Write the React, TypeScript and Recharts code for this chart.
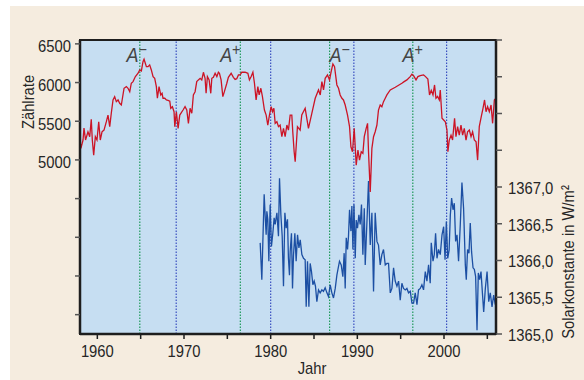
import React from "react";
import {
    LineChart, Line, XAxis, YAxis, ReferenceLine, ReferenceArea
} from "recharts";

// Neutron monitor count rate (left axis)
const countYears = [
    1958.0, 1958.15, 1958.35, 1958.46, 1958.64, 1958.92, 1959.12, 1959.3, 1959.42, 1959.58,
    1959.77, 1959.96, 1960.16, 1960.34, 1960.54, 1960.77, 1961.04, 1961.23, 1961.43, 1961.61,
    1961.81, 1962.0, 1962.19, 1962.39, 1962.58, 1962.77, 1963.08, 1963.35, 1963.54, 1963.74,
    1963.92, 1964.12, 1964.39, 1964.7, 1964.89, 1965.08, 1965.27, 1965.39, 1965.66, 1965.85,
    1966.04, 1966.23, 1966.43, 1966.62, 1966.81, 1966.93, 1967.12, 1967.32, 1967.47, 1967.58,
    1967.78, 1967.97, 1968.16, 1968.36, 1968.47, 1968.66, 1968.85, 1968.94, 1969.12, 1969.32,
    1969.51, 1969.89, 1970.12, 1970.32, 1970.51, 1970.7, 1970.9, 1971.08, 1971.28, 1971.47,
    1971.66, 1971.86, 1972.05, 1972.24, 1972.43, 1972.55, 1972.7, 1972.9, 1973.09, 1973.21,
    1973.39, 1973.59, 1973.79, 1973.97, 1974.09, 1974.28, 1974.48, 1974.66, 1974.94, 1975.12,
    1975.44, 1975.7, 1975.9, 1976.09, 1976.28, 1976.48, 1976.67, 1977.05, 1977.37, 1977.55,
    1977.75, 1977.95, 1978.13, 1978.32, 1978.52, 1978.67, 1978.87, 1979.05, 1979.28, 1979.48,
    1979.67, 1979.86, 1980.06, 1980.21, 1980.37, 1980.52, 1980.72, 1980.9, 1981.09, 1981.29,
    1981.48, 1981.67, 1981.87, 1982.05, 1982.25, 1982.44, 1982.55, 1982.71, 1982.83, 1983.09,
    1983.4, 1983.59, 1983.98, 1984.36, 1984.75, 1985.14, 1985.52, 1985.72, 1985.91, 1986.1,
    1986.29, 1986.56, 1986.79, 1986.98, 1987.18, 1987.37, 1987.64, 1987.83, 1988.02, 1988.22,
    1988.4, 1988.6, 1988.87, 1989.1, 1989.26, 1989.44, 1989.64, 1989.87, 1990.07, 1990.25,
    1990.45, 1990.64, 1990.8, 1991.02, 1991.18, 1991.29, 1991.49, 1991.68, 1991.87, 1992.06,
    1992.26, 1992.44, 1992.64, 1992.83, 1993.02, 1993.22, 1993.41, 1993.8, 1994.38, 1995.14,
    1995.4, 1995.72, 1996.1, 1996.3, 1996.49, 1996.77, 1996.99, 1997.26, 1997.64, 1997.84,
    1998.14, 1998.33, 1998.53, 1998.73, 1998.91, 1999.07, 1999.26, 1999.46, 1999.57, 1999.77,
    1999.96, 2000.15, 2000.34, 2000.45, 2000.61, 2000.81, 2000.99, 2001.22, 2001.38, 2001.57,
    2001.76, 2001.96, 2002.15, 2002.34, 2002.54, 2002.72, 2002.92, 2003.12, 2003.3, 2003.5,
    2003.7, 2003.88, 2004.07, 2004.3, 2004.5, 2004.68, 2004.85, 2005.03, 2005.23, 2005.43,
    2005.61, 2005.81, 2006.0,
];
const countValues = [
    5218, 5170, 5257, 5412, 5257, 5364, 5300, 5525, 5257, 5062,
    5300, 5257, 5494, 5257, 5364, 5386, 5494, 5580, 5430, 5603,
    5775, 5818, 5753, 5775, 5732, 5710, 5926, 5947, 5926, 5882,
    5991, 6012, 6077, 6120, 6163, 6150, 6271, 6302, 6206, 6206,
    6228, 6163, 6077, 6055, 5947, 5797, 5947, 5840, 5861, 5797,
    5797, 5775, 5770, 5760, 5667, 5688, 5623, 5430, 5623, 5408,
    5580, 5645, 5688, 5645, 5473, 5667, 5603, 5840, 5882, 6012,
    6034, 6055, 6034, 6133, 6055, 5861, 6077, 6034, 5861, 6055,
    6068, 6120, 6077, 6133, 6120, 6034, 5818, 5882, 5991, 6068,
    6120, 6068, 6040, 6050, 6099, 6099, 6133, 6133, 6120, 6034,
    6077, 6133, 5991, 5775, 5947, 5840, 5926, 5818, 5645, 5580,
    5451, 5580, 5688, 5623, 5667, 5473, 5494, 5430, 5451, 5300,
    5408, 5300, 5451, 5386, 5580, 5580, 5364, 5105, 4976, 5430,
    5386, 5580, 5667, 5408, 5603, 5797, 5904, 5840, 6012, 5904,
    6055, 6099, 6034, 6142, 6241, 6206, 5969, 5926, 5840, 5797,
    5775, 5710, 5580, 5430, 5170, 5105, 5408, 4933, 5128, 4998,
    5105, 5085, 5300, 5408, 5473, 5105, 4587, 5150, 5300, 5364,
    5451, 5645, 5710, 5688, 5753, 5797, 5840, 5904, 5940, 5991,
    6012, 6034, 6077, 6108, 6090, 6034, 6077, 6090, 6099, 6080,
    6045, 5840, 5900, 5840, 5969, 5797, 5820, 5775, 5904, 5538,
    5516, 5494, 5386, 5105, 5257, 5320, 5257, 5538, 5300, 5430,
    5320, 5451, 5320, 5408, 5257, 5364, 5386, 5300, 5364, 5257,
    5235, 4998, 5430, 5559, 5667, 5775, 5623, 5688, 5623, 5710,
    5473, 5775, 5797,
];

// Solar constant in W/m² (right axis)
const solarYears = [
    1978.79, 1978.98, 1979.1, 1979.25, 1979.36, 1979.48, 1979.56, 1979.67, 1979.79, 1979.94,
    1980.09, 1980.25, 1980.4, 1980.52, 1980.72, 1980.9, 1981.02, 1981.18, 1981.33, 1981.48,
    1981.64, 1981.79, 1981.94, 1982.05, 1982.17, 1982.25, 1982.4, 1982.52, 1982.63, 1982.79,
    1982.94, 1983.1, 1983.26, 1983.41, 1983.6, 1983.79, 1983.98, 1984.1, 1984.25, 1984.41,
    1984.56, 1984.71, 1984.87, 1985.02, 1985.17, 1985.33, 1985.52, 1985.71, 1985.91, 1986.09,
    1986.29, 1986.49, 1986.67, 1986.87, 1987.06, 1987.25, 1987.45, 1987.64, 1987.94, 1988.14,
    1988.33, 1988.48, 1988.6, 1988.72, 1988.87, 1988.98, 1989.1, 1989.26, 1989.37, 1989.49,
    1989.61, 1989.76, 1989.87, 1990.02, 1990.18, 1990.33, 1990.48, 1990.64, 1990.8, 1990.91,
    1991.11, 1991.29, 1991.49, 1991.68, 1991.87, 1992.06, 1992.26, 1992.44, 1992.64, 1992.83,
    1993.02, 1993.22, 1993.41, 1993.6, 1993.8, 1993.99, 1994.18, 1994.37, 1994.57, 1994.76,
    1994.95, 1995.14, 1995.33, 1995.53, 1995.72, 1995.91, 1996.11, 1996.3, 1996.49, 1996.68,
    1996.88, 1997.06, 1997.26, 1997.45, 1997.64, 1997.84, 1998.03, 1998.22, 1998.41, 1998.53,
    1998.73, 1998.88, 1999.03, 1999.19, 1999.37, 1999.57, 1999.77, 1999.96, 2000.12, 2000.27,
    2000.43, 2000.59, 2000.73, 2000.88, 2001.04, 2001.19, 2001.34, 2001.5, 2001.68, 2001.88,
    2002.07, 2002.26, 2002.46, 2002.57, 2002.72, 2002.88, 2003.03, 2003.18, 2003.35, 2003.5,
    2003.65, 2003.81, 2003.96, 2004.11, 2004.27, 2004.42, 2004.58, 2004.77, 2004.97, 2005.16,
    2005.34, 2005.54, 2005.73, 2005.92,
];
const solarValues = [
    1366.24, 1365.74, 1366.26, 1366.9, 1366.62, 1366.35, 1366.67, 1366.56, 1365.99, 1366.76,
    1366.19, 1366.37, 1366.58, 1366.49, 1366.65, 1366.33, 1367.12, 1366.62, 1366.33, 1365.65,
    1366.65, 1366.44, 1366.56, 1366.03, 1365.8, 1366.12, 1366.37, 1365.62, 1366.06, 1366.37,
    1365.99, 1366.35, 1366.17, 1366.28, 1366.08, 1366.03, 1366.01, 1365.37, 1365.99, 1365.37,
    1365.96, 1365.85, 1365.67, 1365.72, 1365.65, 1365.44, 1365.6, 1365.56, 1365.6, 1365.58,
    1365.63, 1365.56, 1365.51, 1365.67, 1365.56, 1365.49, 1365.62, 1365.8, 1365.99, 1365.94,
    1365.78, 1366.1, 1365.62, 1366.31, 1366.15, 1366.33, 1366.69, 1366.4, 1366.74, 1366.15,
    1366.76, 1366.03, 1366.55, 1366.44, 1366.62, 1366.49, 1366.76, 1366.08, 1366.71, 1365.94,
    1366.53, 1367.08, 1366.21, 1366.65, 1365.58, 1366.65, 1366.26, 1366.21, 1365.94, 1366.08,
    1366.15, 1365.94, 1365.96, 1365.96, 1365.56, 1365.62, 1365.9, 1365.72, 1365.65, 1365.72,
    1365.46, 1365.69, 1365.62, 1365.6, 1365.62, 1365.56, 1365.58, 1365.42, 1365.42, 1365.56,
    1365.4, 1365.6, 1365.62, 1365.67, 1365.6, 1365.85, 1365.72, 1365.94, 1365.69, 1366.24,
    1365.99, 1366.08, 1366.37, 1366.03, 1366.15, 1366.08, 1366.35, 1366.46, 1366.01, 1366.53,
    1366.03, 1366.14, 1366.62, 1366.85, 1366.69, 1366.78, 1366.26, 1366.35, 1365.99, 1366.49,
    1367.06, 1366.71, 1365.94, 1365.74, 1366.15, 1366.1, 1366.51, 1366.12, 1365.9, 1365.88,
    1365.78, 1365.05, 1365.83, 1365.74, 1365.85, 1365.58, 1365.3, 1365.62, 1365.85, 1365.44,
    1365.56, 1365.37, 1365.53, 1365.4,
];

// Solar magnetic polarity reversals (green) and solar maxima (blue)
const polarityYears = [1964.9, 1976.5, 1986.8, 1996.4];
const polarityLabels = ["−", "+", "−", "+"];
const maximumYears = [1969.1, 1980.0, 1989.6, 2000.3];

const xTicks = [1960, 1965, 1970, 1975, 1980, 1985, 1990, 1995, 2000, 2005];
const xTickLabels = [1960, 1970, 1980, 1990, 2000];
const leftTicks = [2750, 3000, 3250, 3500, 3750, 4000, 4250, 4500, 4750, 5000, 5250, 5500, 5750, 6000, 6250, 6500];
const leftTickLabels = [5000, 5500, 6000, 6500];
const rightTicks = [1365, 1365.25, 1365.5, 1365.75, 1366, 1366.25, 1366.5, 1366.75, 1367, 1367.25, 1367.5, 1367.75, 1368, 1368.25, 1368.5, 1368.75, 1369];
const rightTickLabels = [1365, 1365.5, 1366, 1366.5, 1367];

const FONT = '"Liberation Sans", Arial, sans-serif';
const TEXT = "#262626";
const AXIS = "#1e1e1e";
const SQUEEZE = 0.87; // the original uses a condensed face

const rows: any[] = [
    ...countYears.map((year, i) => ({ year, count: countValues[i] })),
    ...solarYears.map((year, i) => ({ year, solar: solarValues[i] })),
].sort((a, b) => a.year - b.year);

// label nudges so the A± text sits where the original puts it
const LABEL_DX = [-3, -10, 10, 0];

// condensed svg text: horizontal squeeze, optional rotation
const CText = ({ x, y, anchor = "middle", dy = 0, rotate = false, size = 17, fill = TEXT, children }: any) => (
    <text
        transform={`translate(${x} ${y})${rotate ? " rotate(-90)" : ""} scale(${SQUEEZE} 1)`}
        textAnchor={anchor}
        dy={dy}
        fontSize={size}
        fill={fill}
        fontFamily={FONT}
    >
        {children}
    </text>
);

const XTick = ({ x, y, payload }: any) =>
    xTickLabels.includes(payload.value) ? (
        <CText x={x} y={y} dy="0.71em">{payload.value}</CText>
    ) : null;

const LeftTick = ({ x, y, payload }: any) =>
    leftTickLabels.includes(payload.value) ? (
        <CText x={x} y={y} anchor="end" dy="0.5em">{payload.value}</CText>
    ) : null;

const RightTick = ({ x, y, payload }: any) =>
    rightTickLabels.includes(payload.value) ? (
        <CText x={x} y={y} anchor="start" dy="0.4em">
            {payload.value.toFixed(1).replace(".", ",")}
        </CText>
    ) : null;

export default function App() {
    return (
        <div style={{ position: "fixed", left: 0, top: 0, width: 584, height: 380, background: "#fff" }}>
            <div style={{ position: "absolute", left: 10, top: 6, right: 0, bottom: 0, background: "#f5ecdf" }} />
            <div style={{ position: "absolute", left: 0, top: 0 }}>
                <LineChart width={584} height={380} data={rows} margin={{ top: 40, right: 28, bottom: 0, left: 10 }}>
                    <XAxis
                        dataKey="year"
                        type="number"
                        domain={[1958, 2006]}
                        ticks={xTicks}
                        height={46}
                        tick={<XTick />}
                        tickSize={5}
                        tickMargin={6}
                        axisLine={{ stroke: AXIS, strokeWidth: 2.5 }}
                        tickLine={{ stroke: AXIS, strokeWidth: 1.5 }}
                        label={{
                            content: ({ viewBox }: any) => (
                                <CText x={viewBox.x + 232} y={374}>Jahr</CText>
                            ),
                        }}
                    />
                    <YAxis
                        yAxisId="left"
                        domain={[2750, 6550]}
                        ticks={leftTicks}
                        width={70}
                        tick={<LeftTick />}
                        tickSize={5}
                        tickMargin={4}
                        axisLine={{ stroke: AXIS, strokeWidth: 2.5 }}
                        tickLine={{ stroke: "#555", strokeWidth: 1.5 }}
                        label={{
                            content: ({ viewBox }: any) => (
                                <CText x={viewBox.x + 24} y={102} rotate>Zählrate</CText>
                            ),
                        }}
                    />
                    <YAxis
                        yAxisId="right"
                        orientation="right"
                        domain={[1365, 1369]}
                        ticks={rightTicks}
                        width={60}
                        tick={<RightTick />}
                        tickSize={6}
                        tickMargin={6}
                        axisLine={{ stroke: AXIS, strokeWidth: 2.5 }}
                        tickLine={{ stroke: "#555", strokeWidth: 1.5 }}
                        label={{
                            content: ({ viewBox }: any) => (
                                <CText x={viewBox.x + 78} y={262} rotate>Solarkonstante in W/m²</CText>
                            ),
                        }}
                    />

                    <ReferenceArea
                        yAxisId="left"
                        x1={1958}
                        x2={2006}
                        y1={2750}
                        y2={6550}
                        fill="#c6def2"
                        fillOpacity={1}
                        stroke={AXIS}
                        strokeWidth={2}
                    />

                    {polarityYears.map((year, i) => (
                        <ReferenceLine
                            key={`pol_${year}`}
                            yAxisId="left"
                            x={year}
                            stroke="#1f9a5a"
                            strokeWidth={1.2}
                            strokeDasharray="1.5 1.5"
                            label={{
                                content: ({ viewBox }: any) => (
                                    <text
                                        transform={`translate(${viewBox.x + LABEL_DX[i]} ${viewBox.y + 22}) scale(0.9 1)`}
                                        textAnchor="middle"
                                        fontSize={20}
                                        fill="#444"
                                        fontFamily={FONT}
                                    >
                                        <tspan fontStyle="italic">A</tspan>
                                        <tspan dy={-7} fontSize={16}>{polarityLabels[i]}</tspan>
                                    </text>
                                ),
                            }}
                        />
                    ))}
                    {maximumYears.map((year) => (
                        <ReferenceLine
                            key={`max_${year}`}
                            yAxisId="left"
                            x={year}
                            stroke="#3a4fc0"
                            strokeWidth={1.2}
                            strokeDasharray="1.5 1.5"
                        />
                    ))}

                    <Line
                        yAxisId="right"
                        type="linear"
                        dataKey="solar"
                        stroke="#1c4fa3"
                        strokeWidth={1.3}
                        dot={false}
                        connectNulls
                        isAnimationActive={false}
                    />
                    <Line
                        yAxisId="left"
                        type="linear"
                        dataKey="count"
                        stroke="#cc1426"
                        strokeWidth={1.3}
                        dot={false}
                        connectNulls
                        isAnimationActive={false}
                    />
                </LineChart>
            </div>
        </div>
    );
}
